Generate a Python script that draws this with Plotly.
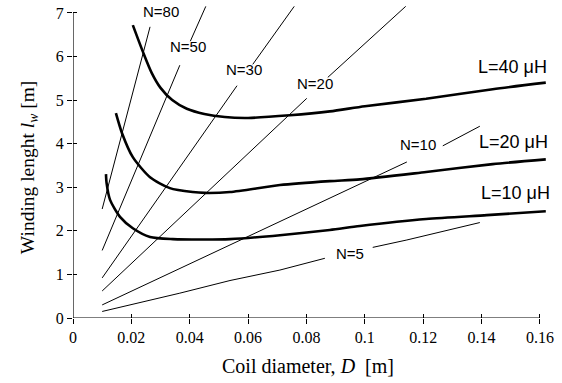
import plotly.graph_objects as go

# ---- data ----
x_ticks = [0, 0.02, 0.04, 0.06, 0.08, 0.1, 0.12, 0.14, 0.16]
x_tick_text = ["0", "0.02", "0.04", "0.06", "0.08", "0.1", "0.12", "0.14", "0.16"]
y_ticks = [0, 1, 2, 3, 4, 5, 6, 7]

# constant-turn lines (None = gap left for the label)
n80_D = [0.0100, 0.0264]
n80_L = [2.50, 6.68]
n50_D = [0.0100, 0.0366, None, 0.0402, 0.0455]
n50_L = [1.55, 5.80, None, 6.35, 7.15]
n30_D = [0.0100, 0.0562, None, 0.0616, 0.0758]
n30_L = [0.92, 5.33, None, 5.82, 7.15]
n20_D = [0.0100, 0.0801, None, 0.0873, 0.1140]
n20_L = [0.62, 5.04, None, 5.52, 7.15]
n10_D = [0.0100, 0.1144, None, 0.1267, 0.1394]
n10_L = [0.30, 3.58, None, 3.95, 4.40]
n5_D = [0.0100, 0.0366, 0.0538, 0.0709, 0.0863, None, 0.1027, 0.1144, 0.1394]
n5_L = [0.15, 0.57, 0.86, 1.10, 1.37, None, 1.62, 1.79, 2.19]

# constant-inductance curves
l40_D = [0.0205, 0.0240, 0.0270, 0.0300, 0.0340, 0.0390, 0.0450, 0.0520, 0.0600, 0.0743, 0.0880, 0.1000, 0.1210, 0.1438, 0.1620]
l40_L = [6.72, 6.10, 5.62, 5.28, 5.00, 4.80, 4.68, 4.61, 4.59, 4.65, 4.74, 4.86, 5.03, 5.25, 5.40]
l20_D = [0.0147, 0.0168, 0.0205, 0.0264, 0.0332, 0.0410, 0.0452, 0.0538, 0.0709, 0.0880, 0.0983, 0.1210, 0.1438, 0.1620]
l20_L = [4.70, 4.24, 3.69, 3.23, 2.98, 2.89, 2.87, 2.89, 3.05, 3.14, 3.18, 3.35, 3.53, 3.64]
l10_D = [0.0113, 0.0115, 0.0127, 0.0161, 0.0205, 0.0264, 0.0342, 0.0450, 0.0538, 0.0709, 0.0880, 0.0983, 0.1210, 0.1418, 0.1620]
l10_L = [3.30, 3.10, 2.71, 2.32, 2.06, 1.86, 1.81, 1.80, 1.81, 1.90, 2.02, 2.11, 2.27, 2.36, 2.45]

n_labels = ["N=80", "N=50", "N=30", "N=20", "N=10", "N=5"]
n_label_pos = [(0.0301, 7.04), (0.0394, 6.22), (0.0586, 5.71), (0.0829, 5.39), (0.1182, 3.97), (0.0949, 1.49)]
l_labels = ["L=40 μH", "L=20 μH", "L=10 μH"]
l_label_pos = [(0.1507, 5.76), (0.1510, 4.04), (0.1517, 2.87)]

fig = go.Figure()

thin = dict(color="black", width=1)
for D, L in [(n80_D, n80_L), (n50_D, n50_L), (n30_D, n30_L), (n20_D, n20_L), (n10_D, n10_L), (n5_D, n5_L)]:
    fig.add_trace(go.Scatter(x=D, y=L, mode="lines", line=thin, connectgaps=False, showlegend=False, hoverinfo="skip"))

for D, L in [(l40_D, l40_L), (l20_D, l20_L), (l10_D, l10_L)]:
    fig.add_trace(go.Scatter(x=D, y=L, mode="lines", line=dict(color="black", width=2.6, shape="spline", smoothing=0.7),
                             showlegend=False, hoverinfo="skip"))

# invisible trace so the overlay axes (inside ticks) render
fig.add_trace(go.Scatter(x=[0], y=[0], xaxis="x2", yaxis="y2", mode="markers", marker=dict(opacity=0), showlegend=False, hoverinfo="skip"))

for txt, (x, y) in zip(n_labels, n_label_pos):
    fig.add_annotation(x=x, y=y, text=txt, showarrow=False, xanchor="center", yanchor="middle",
                       font=dict(family="Liberation Sans", size=15, color="black"))
for txt, (x, y) in zip(l_labels, l_label_pos):
    fig.add_annotation(x=x, y=y, text=txt, showarrow=False, xanchor="center", yanchor="middle",
                       font=dict(family="Liberation Sans", size=18, color="black"))

xr = [0, 0.1631]
yr = [0, 7.25]
tickfont = dict(family="Liberation Serif", size=16, color="black")
fig.update_layout(
    width=562, height=383,
    margin=dict(l=73, r=13, t=2, b=65, autoexpand=False),
    paper_bgcolor="white", plot_bgcolor="white",
    xaxis=dict(range=xr, tickvals=x_ticks, ticktext=x_tick_text, ticks="outside", ticklen=5, tickwidth=1,
               tickcolor="black", showgrid=False, zeroline=False, showline=False, tickfont=tickfont, automargin=False),
    yaxis=dict(range=yr, tickvals=y_ticks, ticks="outside", ticklen=5, tickwidth=1,
               tickcolor="black", showgrid=False, zeroline=False, showline=False, tickfont=tickfont, automargin=False),
    xaxis2=dict(range=xr, tickvals=x_ticks, ticks="inside", ticklen=4, tickwidth=1, tickcolor="black",
                showticklabels=False, showgrid=False, zeroline=False, showline=False, overlaying="x", anchor="y2", automargin=False),
    yaxis2=dict(range=yr, tickvals=y_ticks, ticks="inside", ticklen=4, tickwidth=1, tickcolor="black",
                showticklabels=False, showgrid=False, zeroline=False, showline=False, overlaying="y", anchor="x2", automargin=False),
)

# axis lines ending at the last tick
fig.add_shape(type="line", xref="x", yref="y", x0=0, x1=x_ticks[-1], y0=0, y1=0, line=dict(color="black", width=1.2))
fig.add_shape(type="line", xref="x", yref="y", x0=0, x1=0, y0=0, y1=y_ticks[-1], line=dict(color="black", width=1.2))

fig.add_annotation(xref="paper", yref="paper", x=0.494, y=-0.152, xanchor="center", yanchor="middle",
                   text="Coil diameter, <i>D</i>  [m]", showarrow=False,
                   font=dict(family="Liberation Serif", size=20, color="black"))
fig.add_annotation(xref="paper", yref="paper", x=-0.092, y=0.478, xanchor="center", yanchor="middle",
                   text="Winding lenght <i>l</i><sub><i>w</i></sub> [m]",
                   textangle=-90, showarrow=False, font=dict(family="Liberation Serif", size=19.5, color="black"))

fig.write_html("out.html", config={"displayModeBar": False},
               post_script="document.body.style.margin='0';document.body.style.padding='0';")
